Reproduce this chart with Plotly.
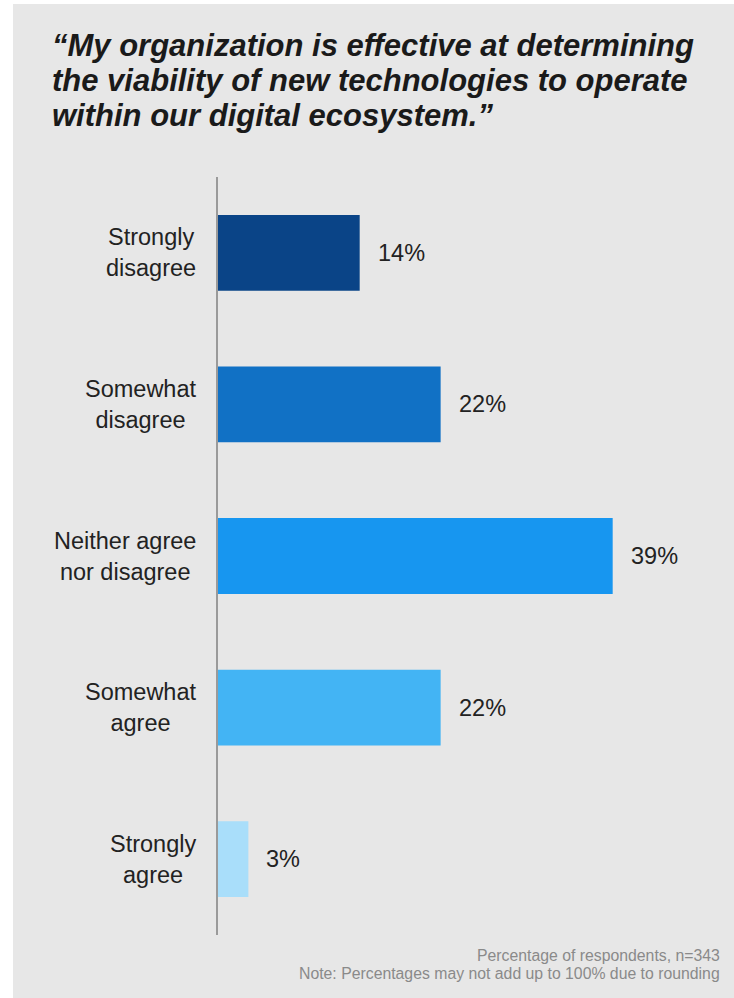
import plotly.graph_objects as go

# Survey responses, top to bottom
categories = ["Strongly disagree", "Somewhat disagree", "Neither agree nor disagree",
              "Somewhat agree", "Strongly agree"]
category_lines = [["Strongly", "disagree"], ["Somewhat", "disagree"],
                  ["Neither agree", "nor disagree"], ["Somewhat", "agree"],
                  ["Strongly", "agree"]]
values = [14, 22, 39, 22, 3]
bar_colors = ["#0a4487", "#1171c5", "#1796f0", "#43b4f4", "#a9defa"]

title_lines = ["\u201cMy organization is effective at determining",
               "the viability of new technologies to operate",
               "within our digital ecosystem.\u201d"]
notes = ["Percentage of respondents, n=343",
         "Note: Percentages may not add up to 100% due to rounding"]

W, H = 734, 998
ML, MR, MT, MB = 218, 10, 177, 63
PW, PH = W - ML - MR, H - MT - MB


def px(x):
    return (x - ML) / PW


def py(y):
    return 1 - (y - MT) / PH


fig = go.Figure(go.Bar(
    x=values, y=categories, orientation="h",
    marker=dict(color=bar_colors, line=dict(width=0)),
    hoverinfo="skip",
))

annotations = []
label_font = dict(family="Liberation Sans, Arial, sans-serif", size=23.5, color="#222222")

# value labels to the right of each bar
for c, v in zip(categories, values):
    annotations.append(dict(x=v, y=c, xref="x", yref="y", text=f"{v}%",
                            showarrow=False, xanchor="left", xshift=16,
                            font=label_font))

# category labels: lines centred, block right-aligned against the axis
for c, lines in zip(categories, category_lines):
    annotations.append(dict(x=0, y=c, xref="x", yref="y", text="<br>".join(lines),
                            showarrow=False, xanchor="right", align="center",
                            xshift=-20, font=label_font))

# title
for i, t in enumerate(title_lines):
    annotations.append(dict(x=px(50), y=py(45 + 35 * i), xref="paper", yref="paper",
                            text=f"<b><i>{t}</i></b>", showarrow=False,
                            xanchor="left", yanchor="middle",
                            font=dict(family="Liberation Sans Narrow, Liberation Sans, Arial",
                                      size=31, color="#1a1a1a")))

# footnotes
for i, t in enumerate(notes):
    annotations.append(dict(x=px(722), y=py(955 + 18 * i), xref="paper", yref="paper",
                            text=t, showarrow=False, xanchor="right", yanchor="middle",
                            font=dict(family="Liberation Sans Narrow, Liberation Sans, Arial",
                                      size=15.8, color="#8a8a8a")))

fig.update_layout(
    width=W, height=H,
    margin=dict(l=ML, r=MR, t=MT, b=MB),
    paper_bgcolor="white", plot_bgcolor="rgba(0,0,0,0)",
    bargap=0.5, showlegend=False,
    annotations=annotations,
    shapes=[dict(type="rect", xref="paper", yref="paper", layer="below",
                 x0=px(13), x1=px(W), y0=py(H), y1=py(4),
                 fillcolor="#e7e7e7", line=dict(width=0))],
    xaxis=dict(range=[0, 50], visible=False, fixedrange=True),
    yaxis=dict(categoryorder="array", categoryarray=categories, autorange="reversed",
               showticklabels=False, showgrid=False, zeroline=False,
               showline=True, linecolor="#9a9a9a", linewidth=2, ticks=""),
)

fig.write_html("out.html")
